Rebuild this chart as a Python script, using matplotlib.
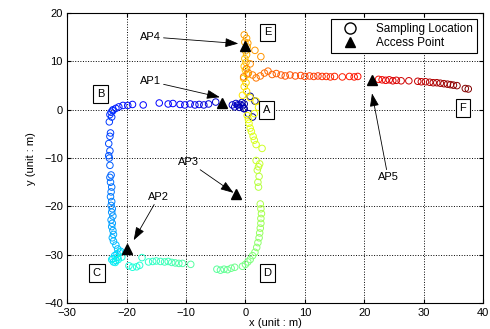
import matplotlib
matplotlib.use('Agg')
import matplotlib.pyplot as plt
import numpy as np
from matplotlib.lines import Line2D

plt.rcParams['font.family'] = ['Liberation Sans', 'DejaVu Sans']
plt.rcParams['font.size'] = 8

# sampling locations, in walking order A -> B -> C -> D -> A -> E -> F
seg_ab = [(0.8, 2.8), (1.6, 1.8), (1.2, -1.5), (0.5, -0.8), (-0.2, 0.2), (-0.5, 0.8),
          (-0.2, 1.2), (-1.0, 0.5), (-0.6, 1.5), (-1.3, 1.0), (-0.3, 0.3), (-1.8, 0.6),
          (-1.6, 1.3), (-0.9, 1.1), (-2.2, 1.0), (-5.0, 1.6), (-6.2, 1.2), (-7.0, 1.0),
          (-7.8, 1.1), (-8.5, 1.0), (-9.3, 1.2), (-10.2, 1.0), (-11.0, 1.1), (-12.2, 1.3),
          (-13.0, 1.2), (-14.5, 1.4), (-17.2, 1.0), (-19.0, 1.1), (-19.8, 0.9), (-20.6, 0.9),
          (-21.3, 0.6)]
seg_bc = [(-21.8, 0.3), (-22.3, 0.0), (-22.6, -0.5), (-22.3, -0.2), (-22.8, -1.0), (-22.5, -1.5),
          (-22.9, -2.5), (-22.7, -4.8), (-22.8, -5.5), (-23.0, -7.0), (-22.8, -8.5), (-23.0, -9.5),
          (-22.9, -10.0), (-22.8, -11.5), (-22.6, -13.5), (-22.8, -14.0), (-22.7, -15.0), (-22.5, -16.0),
          (-22.6, -17.0), (-22.7, -18.0), (-22.5, -19.0), (-22.6, -19.8), (-22.4, -20.5), (-22.5, -21.2),
          (-22.3, -22.0), (-22.6, -22.8), (-22.4, -23.5), (-22.5, -24.2), (-22.3, -25.0), (-22.2, -25.8),
          (-22.4, -26.5), (-22.2, -27.2), (-21.8, -28.0), (-21.5, -28.8), (-21.0, -29.3), (-21.6, -29.8),
          (-22.0, -30.2), (-22.3, -30.8), (-21.8, -31.2), (-22.2, -31.5), (-21.5, -30.5), (-21.2, -29.5),
          (-22.5, -31.0), (-21.9, -31.6), (-21.4, -31.0), (-20.8, -30.5)]
seg_cd = [(-19.6, -32.3), (-19.0, -32.6), (-18.3, -32.5), (-17.8, -32.2), (-17.4, -30.6), (-16.3, -31.5),
          (-15.6, -31.4), (-15.0, -31.3), (-14.3, -31.4), (-13.6, -31.5), (-13.0, -31.4), (-12.4, -31.6),
          (-11.8, -31.7), (-11.2, -31.8), (-10.6, -31.8), (-9.2, -32.0), (-4.8, -33.0), (-4.2, -33.2),
          (-3.6, -33.0), (-3.0, -33.1), (-2.4, -32.8), (-1.8, -32.6), (-0.5, -32.4), (0.0, -32.0)]
seg_da = [(0.4, -31.5), (0.8, -31.0), (1.2, -30.2), (1.6, -29.5), (1.9, -28.5), (2.1, -27.5),
          (2.3, -26.5), (2.4, -25.5), (2.5, -24.5), (2.6, -23.5), (2.6, -22.5), (2.7, -21.5),
          (2.6, -20.5), (2.5, -19.5), (2.2, -16.0), (2.1, -15.0), (2.3, -13.8), (2.0, -12.5),
          (2.2, -11.8), (2.4, -11.2), (1.8, -10.5), (2.8, -8.0), (1.8, -7.2), (1.5, -6.3),
          (1.3, -5.5), (1.0, -4.5), (0.8, -3.8), (0.6, -2.8), (0.5, -2.0), (1.5, -0.8),
          (2.2, 0.5), (0.3, -1.2)]
seg_ae = [(1.8, 1.8), (0.8, 2.5), (-0.5, 3.0), (0.2, 3.8), (-0.2, 4.8), (0.1, 5.6),
          (-0.3, 6.5), (0.3, 7.3), (0.0, 8.2), (-0.2, 9.0), (0.1, 9.8), (-0.1, 10.6),
          (0.2, 11.4), (0.0, 12.2), (0.3, 13.0), (-0.1, 14.0), (0.2, 14.8), (-0.2, 15.5)]
seg_ef = [(0.4, 13.8), (1.6, 12.3), (2.6, 11.0), (0.8, 9.5), (0.2, 8.5), (0.5, 7.6),
          (1.2, 7.2), (-0.3, 6.8), (1.8, 6.6), (2.5, 7.0), (3.2, 7.6), (3.8, 8.0),
          (4.5, 7.3), (5.2, 7.5), (6.0, 7.2), (6.7, 7.0), (7.5, 7.2), (8.4, 7.0),
          (9.3, 7.1), (10.0, 6.9), (10.8, 7.0), (11.5, 6.9), (12.2, 7.0), (12.9, 6.9),
          (13.6, 6.9), (14.3, 6.8), (15.0, 6.9), (16.3, 6.8), (17.5, 6.9), (18.3, 6.8),
          (18.9, 6.9), (22.4, 6.3), (23.0, 6.2), (23.6, 6.1), (24.2, 6.2), (24.8, 6.0),
          (25.4, 6.1), (26.2, 6.0), (27.5, 6.0), (29.0, 5.9), (29.6, 5.8), (30.3, 5.8),
          (31.0, 5.7), (31.6, 5.6), (32.2, 5.6), (32.8, 5.5), (33.4, 5.4), (34.0, 5.3),
          (34.5, 5.2), (35.0, 5.1), (35.6, 5.0), (37.0, 4.4), (37.5, 4.3)]

# access points and where their label arrows point
ap_names = ['AP1', 'AP2', 'AP3', 'AP4', 'AP5']
ap_x = [-3.9, -20.0, -1.6, 0.0, 21.3]
ap_y = [1.5, -28.8, -17.5, 13.2, 6.1]
tip_x = [-4.3, -18.8, -2.0, -1.2, 21.3]
tip_y = [2.6, -27.0, -17.2, 13.7, 3.4]
ap_text_x = [-16.0, -14.6, -9.5, -16.0, 24.0]
ap_text_y = [5.9, -18.0, -10.8, 15.1, -14.0]

# corner labels
corner_names = ['A', 'B', 'C', 'D', 'E', 'F']
corner_x = [3.5, -24.4, -25.0, 3.7, 3.7, 36.6]
corner_y = [0.0, 3.3, -33.8, -33.8, 16.0, 0.3]

pts = np.array(seg_ab + seg_bc + seg_cd + seg_da + seg_ae + seg_ef)
cols = plt.cm.jet(np.linspace(0, 1, len(pts)))

fig = plt.figure(figsize=(4.9, 3.29), dpi=100)
ax = fig.add_axes([0.137, 0.079, 0.849, 0.881])

ax.scatter(pts[:, 0], pts[:, 1], s=22, facecolors='none', edgecolors=cols, linewidths=0.7, zorder=2)
ax.plot(ap_x, ap_y, '^', color='k', markersize=6.5, zorder=3)

for name, x, y, tx, ty in zip(ap_names, tip_x, tip_y, ap_text_x, ap_text_y):
    ax.annotate(name, xy=(x, y), xytext=(tx, ty), ha='center', va='center', fontsize=8,
                arrowprops=dict(arrowstyle='-|>,head_length=1.0,head_width=0.35', color='k',
                                lw=0.6, shrinkA=0, shrinkB=0), zorder=4)

for name, x, y in zip(corner_names, corner_x, corner_y):
    ax.text(x, y, name, ha='center', va='center', fontsize=8,
            bbox=dict(boxstyle='square,pad=0.35', facecolor='white', edgecolor='k', lw=0.8), zorder=4)

ax.set_xlim(-30, 40)
ax.set_ylim(-40, 20)
ax.set_xticks(np.arange(-30, 41, 10))
ax.set_yticks(np.arange(-40, 21, 10))
ax.grid(True, linestyle=':', color='k', lw=0.7)
ax.set_axisbelow(True)
ax.tick_params(direction='in', top=True, right=True, length=3, labelsize=8)
ax.tick_params(axis='x', pad=3.5)
ax.tick_params(axis='y', pad=3)
ax.set_xlabel('x (unit : m)', fontsize=8, labelpad=0)
ax.set_ylabel('y (unit : m)', fontsize=8, labelpad=6)

handles = [Line2D([], [], marker='o', ls='none', mfc='none', mec='k', markersize=8),
           Line2D([], [], marker='^', ls='none', color='k', markersize=6.5)]
leg = ax.legend(handles, ['Sampling Location', 'Access Point'], loc='upper right',
                fontsize=8.5, fancybox=False, framealpha=1, edgecolor='k',
                borderaxespad=0.5, handlelength=2.6, handletextpad=0.9,
                labelspacing=0.15, borderpad=0.35)
leg.get_frame().set_linewidth(0.8)

fig.savefig('out.png', dpi=100)
